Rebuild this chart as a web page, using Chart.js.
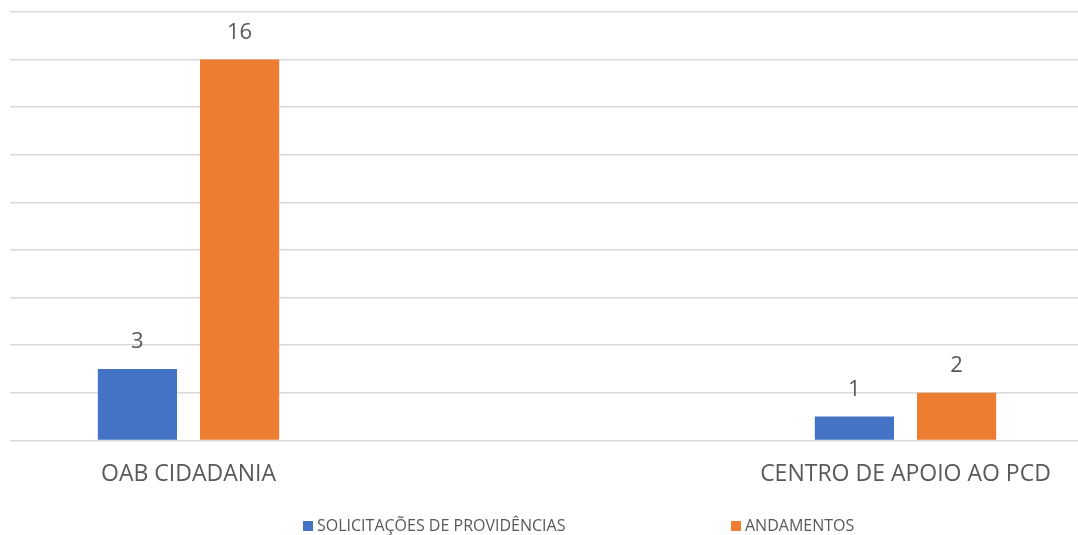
<!DOCTYPE html>
<html>
<head>
<meta charset="utf-8">
<script src="https://cdn.jsdelivr.net/npm/chart.js@4"></script>
<style>
  html, body { margin: 0; padding: 0; background: #fff; overflow: hidden; width: 1078px; height: 535px; }
  #wrap { position: relative; width: 1078px; height: 535px; overflow: hidden; }
  #cv { position: absolute; left: -180px; top: 0; }
  #mask { position: absolute; left: 0; top: 0; width: 10px; height: 445px; background: #fff; }
  .lg { position: absolute; top: 514px; font-family: "Open Sans", sans-serif; font-size: 16px; color: #595959; white-space: nowrap; line-height: 22px; }
  .sw { display: inline-block; width: 10px; height: 10px; margin-right: 4px; vertical-align: 0px; }
</style>
</head>
<body>
<div id="wrap">
  <canvas id="cv" width="1460" height="535" style="width:1460px;height:535px"></canvas>
  <div id="mask"></div>
  <div class="lg" id="lg1" style="left:303px"><span class="sw" style="background:#4472C4"></span><span id="t1"></span></div>
  <div class="lg" id="lg2" style="left:731px"><span class="sw" style="background:#ED7D31"></span><span id="t2"></span></div>
</div>
<script>
const categories = ["OAB CIDADANIA", "CENTRO DE APOIO AO PCD"];
const seriesNames = ["SOLICITAÇÕES DE PROVIDÊNCIAS", "ANDAMENTOS"];
const solicitacoes = [3, 1];
const andamentos = [16, 2];
const seriesColors = ["#4472C4", "#ED7D31"];

document.getElementById('t1').textContent = seriesNames[0];
document.getElementById('t2').textContent = seriesNames[1];

const dataLabels = {
  id: 'dataLabels',
  afterDatasetsDraw(chart) {
    const ctx = chart.ctx;
    ctx.save();
    ctx.font = '22px "Open Sans", sans-serif';
    ctx.fillStyle = '#595959';
    ctx.textAlign = 'center';
    ctx.textBaseline = 'middle';
    chart.data.datasets.forEach((ds, i) => {
      chart.getDatasetMeta(i).data.forEach((bar, j) => {
        ctx.fillText(String(ds.data[j]), bar.x, bar.y - 27);
      });
    });
    ctx.restore();
  }
};

new Chart(document.getElementById('cv'), {
  type: 'bar',
  data: {
    labels: categories,
    datasets: [
      { label: seriesNames[0], data: solicitacoes, backgroundColor: seriesColors[0] },
      { label: seriesNames[1], data: andamentos, backgroundColor: seriesColors[1] }
    ]
  },
  options: {
    responsive: false,
    animation: false,
    devicePixelRatio: 1,
    layout: { padding: { left: 10, right: 16, top: 12, bottom: 27 } },
    categoryPercentage: 0.285,
    barPercentage: 0.775,
    plugins: { legend: { display: false }, tooltip: { enabled: false } },
    scales: {
      x: {
        grid: { display: false, drawTicks: false },
        border: { display: false },
        ticks: { padding: 20, color: '#595959', font: { family: '"Open Sans", sans-serif', size: 23 } }
      },
      y: {
        min: 0, max: 18,
        ticks: { display: false, stepSize: 2 },
        grid: { color: '#d9d9d9', lineWidth: 1.5, drawTicks: false },
        border: { display: false }
      }
    }
  },
  plugins: [dataLabels]
});
</script>
</body>
</html>
